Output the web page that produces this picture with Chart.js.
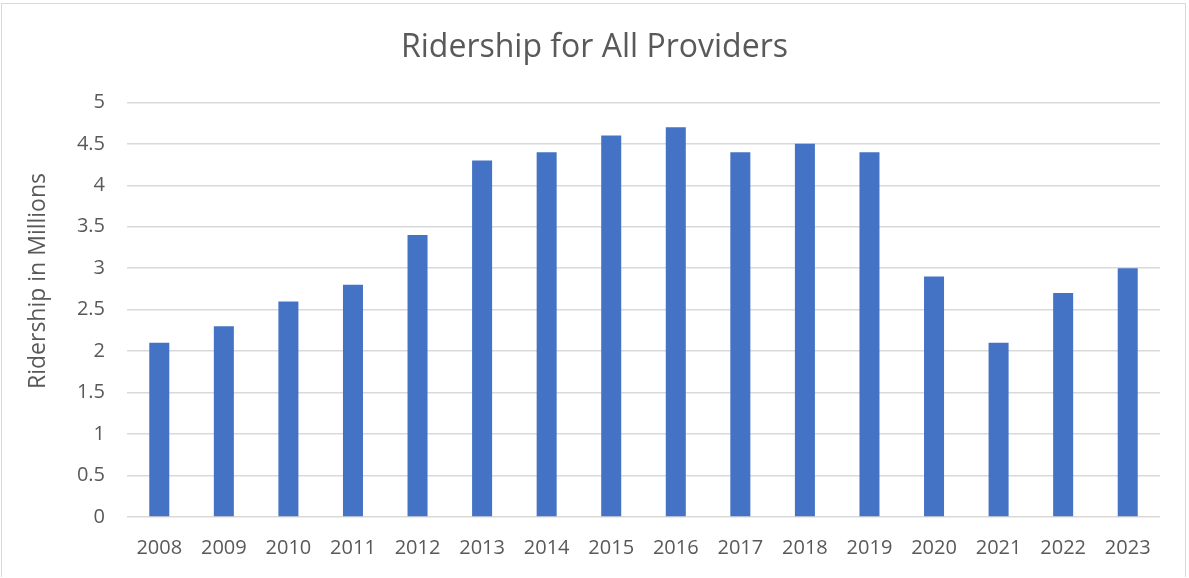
<!DOCTYPE html>
<html>
<head>
<meta charset="utf-8">
<script src="https://cdn.jsdelivr.net/npm/chart.js@4"></script>
<style>
  html, body { margin: 0; padding: 0; background: #fff; }
  #wrap { position: absolute; left: 0; top: 0; width: 1189px; height: 578px; }
  #frame { position: absolute; left: 1px; top: 3px; width: 1185px; height: 574px; border: 1.5px solid #d9d9d9; border-bottom: none; box-sizing: border-box; pointer-events: none; }
  canvas { position: absolute; left: 0; top: 0; }
</style>
</head>
<body>
<div id="wrap">
  <canvas id="c" width="1189" height="578"></canvas>
  <div id="frame"></div>
</div>
<script>
const years = ["2008","2009","2010","2011","2012","2013","2014","2015","2016","2017","2018","2019","2020","2021","2022","2023"];
const ridership = [2.1, 2.3, 2.6, 2.8, 3.4, 4.3, 4.4, 4.6, 4.7, 4.4, 4.5, 4.4, 2.9, 2.1, 2.7, 3.0];
const chartTitle = "Ridership for All Providers";
const yAxisTitle = "Ridership in Millions";

const FONT = "'Open Sans', 'Liberation Sans', sans-serif";
const TEXT = "#595959";

// y-axis title drawn rotated, positioned like the reference (off-centre towards the top)
const yTitlePlugin = {
  id: 'yTitle',
  afterDraw(chart) {
    const { ctx } = chart;
    ctx.save();
    ctx.translate(38, 281);
    ctx.rotate(-Math.PI / 2);
    ctx.fillStyle = TEXT;
    ctx.font = "23px " + FONT;
    ctx.textAlign = 'center';
    ctx.textBaseline = 'middle';
    ctx.fillText(yAxisTitle, 0, 0);
    ctx.restore();
  }
};

new Chart(document.getElementById('c'), {
  type: 'bar',
  data: {
    labels: years,
    datasets: [{
      data: ridership,
      backgroundColor: '#4472C4',
      borderWidth: 0,
      barPercentage: 0.62,
      categoryPercentage: 0.5
    }]
  },
  plugins: [yTitlePlugin],
  options: {
    responsive: false,
    animation: false,
    layout: { padding: { left: 0, right: 0, top: 0, bottom: 17 } },
    plugins: {
      legend: { display: false },
      tooltip: { enabled: false },
      title: {
        display: true,
        text: chartTitle,
        color: TEXT,
        font: { family: FONT, size: 32, weight: 'normal' },
        padding: { top: 29, bottom: 35 }
      }
    },
    scales: {
      x: {
        grid: { display: false, drawTicks: false },
        border: { display: false },
        ticks: { color: TEXT, font: { family: FONT, size: 20 }, padding: 19, maxRotation: 0 },
        afterFit: s => { s.height = 44; }
      },
      y: {
        min: 0, max: 5,
        grid: { color: '#d9d9d9', lineWidth: 1.5, drawTicks: false },
        border: { display: false },
        ticks: {
          stepSize: 0.5, color: TEXT, font: { family: FONT, size: 20 }, padding: 22,
          callback: v => String(Math.round(v * 10) / 10)
        },
        afterFit: s => { s.width = 127; }
      },
      yRight: {
        position: 'right',
        display: true,
        grid: { display: false, drawTicks: false },
        border: { display: false },
        ticks: { display: false },
        afterFit: s => { s.width = 29; }
      }
    }
  }
});
</script>
</body>
</html>
